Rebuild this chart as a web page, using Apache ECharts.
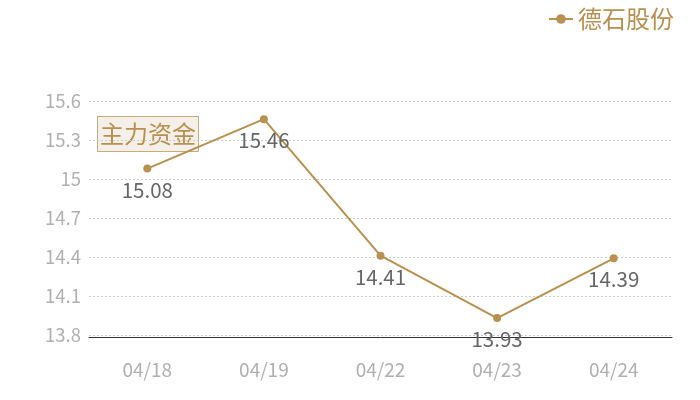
<!DOCTYPE html>
<html><head><meta charset="utf-8">
<script src="https://cdn.jsdelivr.net/npm/echarts@6/dist/echarts.min.js"></script>
<style>html,body{margin:0;padding:0;background:#fff}#c{width:700px;height:400px}</style>
</head><body><div id="c"></div>
<script>
const categories = ['04/18','04/19','04/22','04/23','04/24'];
const seriesName = '德石股份';
const prices = [15.08, 15.46, 14.41, 13.93, 14.39];
const boxLabel = '主力资金';
const gold = '#b8904f';
const font = '"Noto Sans CJK SC", "Noto Sans", sans-serif';
const chart = echarts.init(document.getElementById('c'));
chart.setOption({
  animation:false,
  textStyle:{fontFamily:font},
  legend:{right:21,top:2,itemWidth:24,itemHeight:12,itemGap:5,
    textStyle:{color:gold,fontSize:24,fontFamily:font},data:[seriesName]},
  grid:{left:89,right:28,top:101,bottom:65},
  xAxis:{type:'category',data:categories,offset:2,
    axisLine:{lineStyle:{color:'#333',width:1}},axisTick:{show:false},
    axisLabel:{color:'#b0b0b0',fontSize:19,margin:23,fontFamily:font}},
  yAxis:{type:'value',min:13.8,max:15.6,interval:0.3,
    axisLine:{show:false},axisTick:{show:false},
    axisLabel:{color:'#b0b0b0',fontSize:18.5,margin:8,fontFamily:font,
      formatter:v=>String(Math.round(v*10)/10)},
    splitLine:{lineStyle:{color:'#cccccc',type:[2,2]}}},
  series:[{name:seriesName,type:'line',data:prices,symbol:'circle',symbolSize:8,
    itemStyle:{color:gold},lineStyle:{color:gold,width:2},
    label:{show:true,position:'bottom',distance:7,color:'#666',fontSize:20.5,fontFamily:font}}],
  graphic:[{type:'group',left:97,top:116,children:[
    {type:'rect',shape:{x:0,y:0,width:101,height:35},style:{fill:'#f4efe8',stroke:'#c9aa7c',lineWidth:1}},
    {type:'text',x:50.5,y:17.5,style:{text:boxLabel,fill:gold,fontSize:24,fontFamily:font,align:'center',verticalAlign:'middle'}}
  ]}]
});
</script></body></html>
